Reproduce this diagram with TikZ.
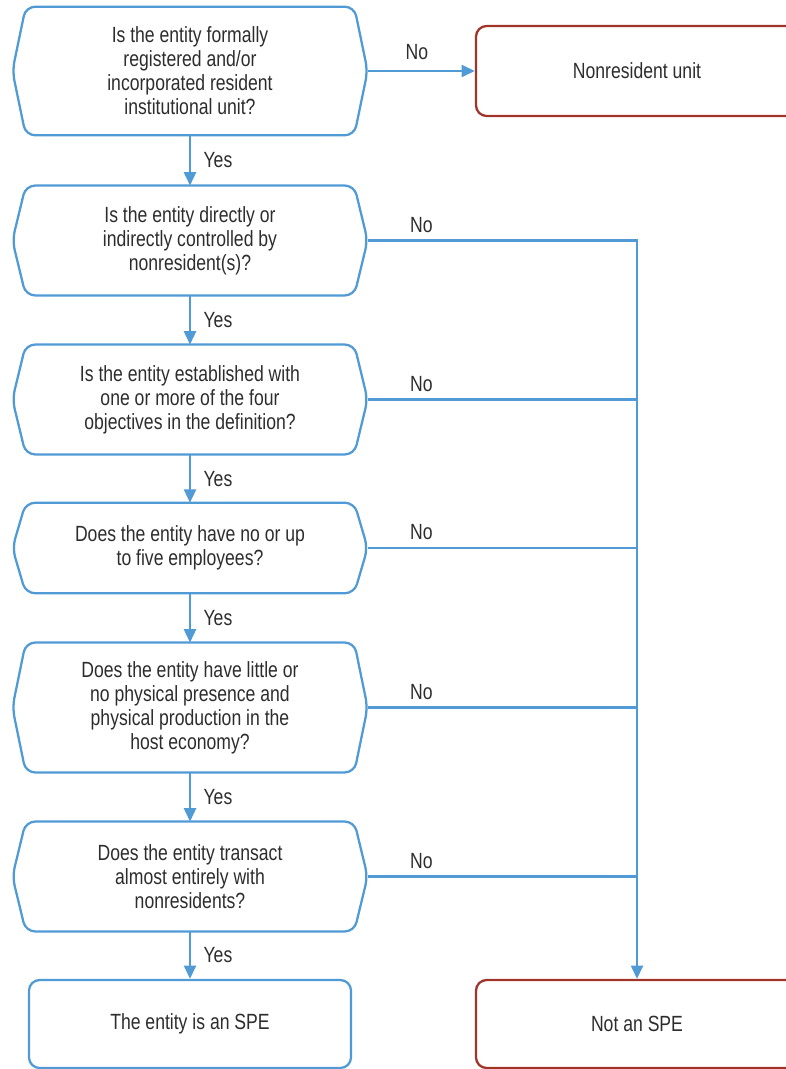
\documentclass[tikz,border=0pt]{standalone}
\usepackage{fontspec}
\setmainfont[FakeStretch=0.8]{Liberation Sans}
\usetikzlibrary{arrows.meta}
\definecolor{flowblue}{RGB}{80,154,214}
\definecolor{endred}{RGB}{160,52,40}
\definecolor{txtgray}{RGB}{45,45,45}
\tikzset{
  every node/.style={font=\fontsize{16.5}{18}\selectfont, text=txtgray},
  quest/.style={minimum width=266pt, align=center, inner sep=0pt},
  outbox/.style={draw, rounded corners=8pt, line width=1.7pt, minimum width=241.5pt, minimum height=66pt, align=center},
  edge/.style={draw=flowblue, line width=1.7pt},
  flow/.style={edge, -{Triangle[length=10pt,width=9pt]}}
}
\begin{document}
\begin{tikzpicture}[x=0.75pt,y=-0.75pt]
  \useasboundingbox (0,0) rectangle (785,1069);
  \node[quest, minimum height=96pt] (q1) at (190,71) {Is the entity formally\\registered and/or\\incorporated resident\\institutional unit?};
  \node[quest, minimum height=82pt] (q2) at (190,240.5) {Is the entity directly or\\indirectly controlled by\\nonresident(s)?};
  \node[quest, minimum height=82pt] (q3) at (190,399.5) {Is the entity established with\\one or more of the four\\objectives in the definition?};
  \node[quest, minimum height=67.5pt] (q4) at (190,548) {Does the entity have no or up\\to five employees?};
  \node[quest, minimum height=97pt] (q5) at (190,707.5) {Does the entity have little or\\no physical presence and\\physical production in the\\host economy?};
  \node[quest, minimum height=82pt] (q6) at (190,876.5) {Does the entity transact\\almost entirely with\\nonresidents?};
  \node[outbox, draw=flowblue] (spe) at (190,1024) {The entity is an SPE};
  \node[outbox, draw=endred] (notspe) at (637,1024) {Not an SPE};
  \node[outbox, draw=endred, minimum height=67.5pt] (nonres) at (637,71) {Nonresident unit};
  \foreach \q in {q1,q2,q3,q4,q5,q6}{
    \draw[edge, rounded corners=7pt] ([xshift=10pt]\q.north west) -- ([xshift=-10pt]\q.north east) -- (\q.east)
      -- ([xshift=-10pt]\q.south east) -- ([xshift=10pt]\q.south west) -- (\q.west) -- cycle;
  }
  \draw[flow] (q1) -- node[right, xshift=6pt] {Yes} (q2);
  \draw[flow] (q2) -- node[right, xshift=6pt] {Yes} (q3);
  \draw[flow] (q3) -- node[right, xshift=6pt] {Yes} (q4);
  \draw[flow] (q4) -- node[right, xshift=6pt] {Yes} (q5);
  \draw[flow] (q5) -- node[right, xshift=6pt] {Yes} (q6);
  \draw[flow] (q6) -- node[right, xshift=6pt] {Yes} (spe);
  \draw[flow] (q1.east) -- node[above, pos=0.46, yshift=4pt] {No} (nonres.west);
  \draw[flow] (q2.east) -| node[above, pos=0.1, yshift=2pt] {No} (notspe.north);
  \foreach \q in {q3,q4,q5,q6}{
    \draw[edge] (\q.east) -- node[above, pos=0.2, yshift=2pt] {No} (\q.east -| notspe.north);
  }
\end{tikzpicture}
\end{document}
